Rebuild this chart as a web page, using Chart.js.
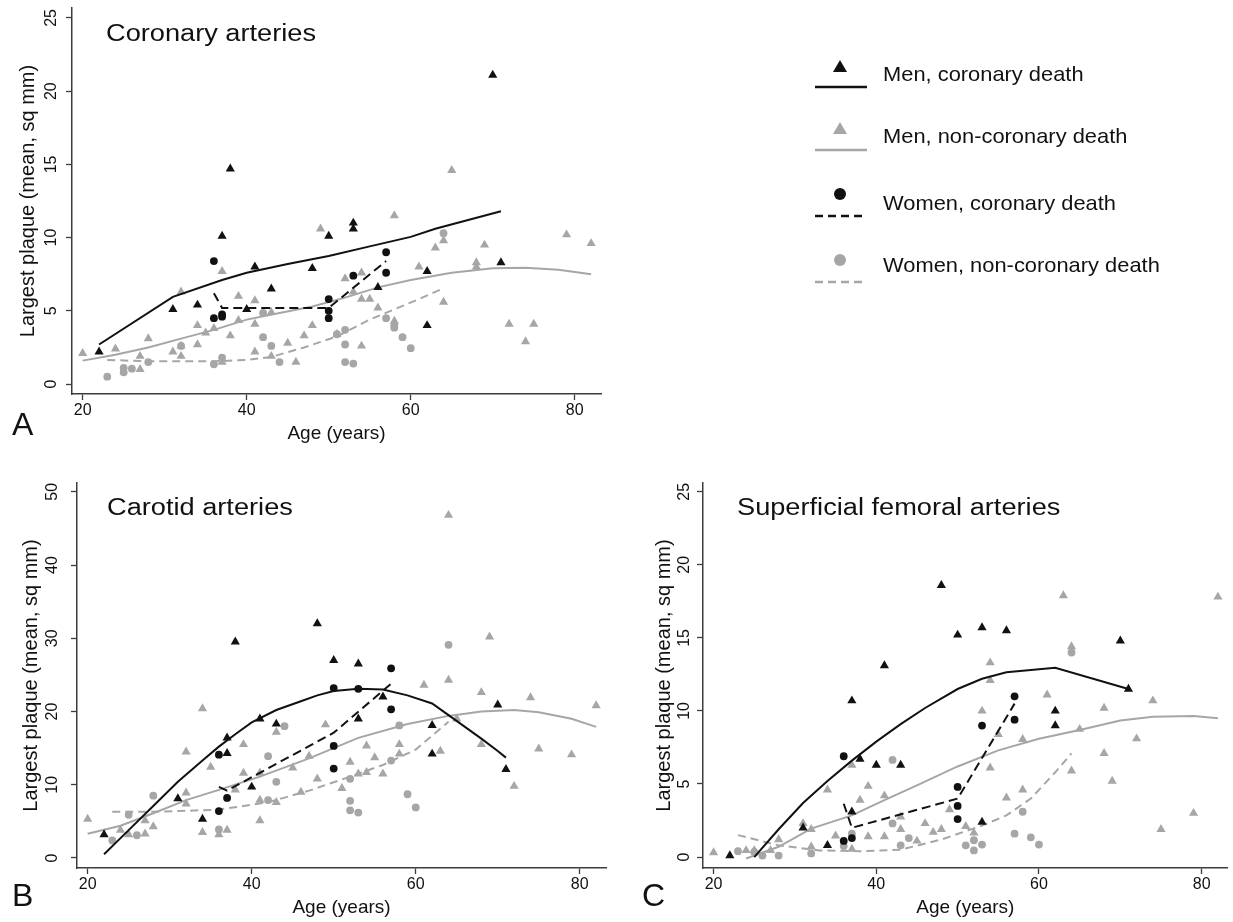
<!DOCTYPE html>
<html lang="en">
<head>
<meta charset="UTF-8">
<title>Largest plaque by age</title>
<script src="https://cdn.jsdelivr.net/npm/chart.js@4.4.0/dist/chart.umd.min.js"></script>
<style>
  body { margin: 0; background: #fff; }
  #page { position: relative; width: 1233px; height: 922px; overflow: hidden; font-family: "Liberation Sans", Arial, sans-serif; }
  canvas { position: absolute; }
  #overlay { position: absolute; left: 0; top: 0; pointer-events: none; }
</style>
</head>
<body>
<div id="page">
  <canvas id="coronary" width="615" height="455" style="left:0px;top:0px"></canvas>
  <canvas id="carotid" width="615" height="452" style="left:0px;top:470px"></canvas>
  <canvas id="femoral" width="603" height="452" style="left:630px;top:470px"></canvas>
  <svg id="overlay" width="1233" height="922"></svg>
</div>

<script>
// ---- data: [age, largest plaque] ----
const xTicks = [20, 40, 60, 80];
const coronaryTicks = [0, 5, 10, 15, 20, 25];
const carotidTicks = [0, 10, 20, 30, 40, 50];
const femoralTicks = [0, 5, 10, 15, 20, 25];

const legendLabels = ['Men, coronary death', 'Men, non-coronary death', 'Women, coronary death', 'Women, non-coronary death'];

// A - coronary arteries
const corMenCor = [[22,2.2],[31,5.1],[34,5.4],[37,10.1],[38,14.7],[40,5.1],[41,8.0],[43,6.5],[48,7.9],[50,10.1],[53,11.0],[53,10.6],[56,6.6],[62,7.7],[62,4.0],[70,21.1],[71,8.3]];
const corMenNon = [[20,2.1],[24,2.4],[27,1.9],[27,1.0],[28,3.1],[31,2.2],[32,6.3],[32,2.6],[32,1.9],[34,4.0],[34,2.7],[35,3.5],[36,3.8],[37,7.7],[37,1.5],[38,3.3],[39,6.0],[39,4.35],[41,5.7],[41,4.1],[41,2.2],[43,4.9],[43,1.9],[45,2.8],[46,1.5],[47,3.3],[48,4.0],[49,10.6],[51,3.4],[52,7.2],[53,6.3],[54,7.6],[54,5.8],[54,2.6],[55,5.8],[56,5.2],[58,11.5],[58,4.3],[61,8.0],[63,9.3],[64,9.8],[64,5.6],[65,14.6],[68,8.3],[68,8.0],[69,9.5],[72,4.1],[74,2.9],[75,4.1],[79,10.2],[82,9.6]];
const corWomCor = [[36,8.4],[36,4.5],[37,4.75],[37,4.6],[50,5.8],[50,5.0],[50,4.5],[53,7.4],[57,9.0],[57,7.6]];
const corWomNon = [[23,0.5],[25,1.1],[25,0.8],[26,1.05],[28,1.5],[32,2.6],[36,1.35],[37,1.8],[42,4.85],[42,3.2],[43,2.6],[44,1.5],[51,3.4],[52,3.7],[52,2.7],[52,1.5],[53,1.4],[57,4.5],[58,4.0],[58,3.85],[59,3.2],[60,2.45],[64,10.3]];
const corMenCorFit = [[22,2.7],[31,5.95],[37,7.1],[40,7.6],[45,8.2],[50,8.75],[55,9.4],[60,10.05],[63,10.6],[67,11.2],[71,11.8]];
const corMenNonFit = [[20,1.6],[24,2.0],[28,2.5],[32,3.1],[36,3.7],[40,4.4],[44,4.85],[48,5.3],[52,5.9],[56,6.6],[60,7.1],[65,7.6],[70,7.9],[74,7.95],[78,7.8],[82,7.5]];
const corWomCorFit = [[36,6.2],[37,5.2],[50,5.2],[57,8.4]];
const corWomNonFit = [[23,1.65],[28,1.55],[32,1.55],[36,1.55],[40,1.65],[43,1.85],[47,2.5],[51,3.25],[55,4.4],[58,5.1],[61,5.8],[64,6.55]];

// B - carotid arteries
const carMenCor = [[22,3.2],[31,8.1],[34,5.3],[37,16.4],[37,14.3],[38,29.5],[40,9.7],[41,19.0],[43,18.3],[48,32.0],[50,27.0],[53,26.5],[53,19.0],[56,22.0],[62,18.1],[62,14.2],[70,20.9],[71,12.1]];
const carMenNon = [[20,5.3],[24,3.8],[25,3.2],[27,5.1],[27,3.3],[28,4.3],[32,14.5],[32,8.9],[32,7.4],[34,20.4],[34,3.5],[35,12.4],[36,3.2],[37,3.8],[38,9.3],[39,15.5],[39,11.6],[41,11.6],[41,7.9],[41,5.1],[43,17.2],[43,7.6],[45,12.3],[46,9.0],[47,13.9],[48,10.8],[49,18.2],[51,9.5],[52,13.1],[53,11.5],[54,15.3],[54,11.7],[55,13.7],[56,11.5],[58,15.5],[58,14.2],[61,23.6],[63,14.6],[64,46.8],[64,24.3],[65,19.0],[68,22.6],[68,15.5],[69,30.2],[72,9.8],[74,21.9],[75,14.9],[79,14.1],[82,20.8]];
const carWomCor = [[36,14.1],[36,6.4],[37,8.2],[50,23.2],[50,15.3],[50,12.2],[53,23.1],[57,25.9],[57,20.3]];
const carWomNon = [[23,2.4],[25,5.9],[26,3.1],[28,8.5],[36,3.9],[42,13.9],[42,7.9],[43,10.4],[44,18.0],[52,10.8],[52,7.8],[52,6.5],[53,6.2],[57,13.3],[58,18.1],[59,8.7],[60,6.9],[64,29.1]];
const carMenCorFit = [[22,0.5],[25,3.8],[28,7.1],[31,10.4],[34,13.3],[36,15.2],[38,16.9],[40,18.5],[43,20.2],[46,21.4],[48,22.2],[50,22.8],[53,23.1],[56,23.0],[59,22.2],[62,21.1],[64,19.5],[66,17.9],[68,16.3],[70,14.6],[71,13.7]];
const carMenNonFit = [[20,3.3],[24,4.4],[28,6.1],[32,7.9],[36,9.3],[41,11.1],[47,13.6],[53,16.4],[59,18.3],[64,19.4],[68,20.0],[72,20.2],[75,19.9],[79,19.0],[82,17.9]];
const carWomCorFit = [[36,9.7],[37,9.2],[50,17.1],[57,23.8]];
const carWomNonFit = [[23,6.3],[27,6.3],[31,6.4],[36,6.6],[42,7.6],[47,9.2],[52,11.1],[56,12.7],[60,14.8],[64,18.6]];

// C - superficial femoral arteries
const femMenCor = [[22,0.1],[31,2.0],[34,0.8],[37,10.7],[37,3.1],[38,6.7],[40,6.3],[41,13.1],[43,6.3],[48,18.6],[50,15.2],[53,15.7],[53,2.4],[56,15.5],[62,10.0],[62,9.0],[70,14.8],[71,11.5]];
const femMenNon = [[20,0.3],[24,0.45],[25,0.45],[27,0.45],[28,1.2],[31,2.3],[32,1.9],[32,0.7],[34,4.6],[35,1.45],[37,6.3],[37,0.55],[38,3.9],[39,4.85],[39,1.4],[41,4.2],[41,1.4],[43,2.75],[43,1.9],[45,1.1],[46,2.3],[47,1.7],[48,1.9],[49,3.25],[51,2.1],[52,1.65],[53,10.0],[54,13.3],[54,12.1],[54,6.1],[55,8.4],[56,4.05],[58,8.05],[58,4.6],[61,11.1],[63,17.9],[64,14.4],[64,5.9],[65,8.75],[68,10.2],[68,7.1],[69,5.2],[72,8.1],[74,10.7],[75,1.9],[79,3.0],[82,17.8]];
const femWomCor = [[36,6.9],[36,1.1],[37,1.3],[50,4.8],[50,3.5],[50,2.6],[53,9.0],[57,11.0],[57,9.4]];
const femWomNon = [[23,0.4],[25,0.35],[26,0.1],[28,0.1],[32,0.25],[36,0.75],[37,1.6],[42,6.65],[42,2.3],[43,0.8],[44,1.3],[51,0.8],[52,1.15],[52,0.45],[53,0.85],[57,1.6],[58,3.1],[59,1.35],[60,0.85],[64,14.0]];
const femMenCorFit = [[25,0],[28,1.9],[31,3.7],[34,5.2],[37,6.6],[40,7.9],[43,9.1],[46,10.2],[50,11.5],[53,12.2],[56,12.65],[62,12.95],[71,11.5]];
const femMenNonFit = [[24,-0.1],[28,0.7],[32,1.95],[37,2.85],[41,3.9],[45,4.9],[50,6.2],[55,7.3],[60,8.1],[65,8.7],[70,9.35],[74,9.6],[79,9.65],[82,9.5]];
const femWomCorFit = [[36,3.65],[37,2.0],[50,4.0],[57,10.5]];
const femWomNonFit = [[23,1.5],[28,0.8],[33,0.45],[38,0.4],[43,0.5],[48,1.2],[53,2.15],[56,2.85],[59,4.0],[62,5.8],[64,7.1]];

// ---- styling ----
const BLACK = '#111111';
const GREY = '#a6a6a6';
const AXIS = '#3c3c3c';
const FONT = '"Liberation Sans", Arial, sans-serif';

function pts(arr) { return arr.map(p => ({ x: p[0], y: p[1] })); }

function markers(arr, style, color, r) {
    return { data: pts(arr), pointStyle: style, pointRadius: r, pointBackgroundColor: color,
             pointBorderWidth: 0, borderWidth: 0, showLine: false };
}
function fit(arr, color, dash) {
    return { data: pts(arr), showLine: true, borderColor: color, borderWidth: 2, borderDash: dash,
             pointRadius: 0, tension: 0, fill: false };
}

function makePanel(id, s) {
    // black series first so they are drawn on top
    const datasets = [
        fit(s.menCorFit, BLACK, []),
        fit(s.womCorFit, BLACK, [9, 5]),
        markers(s.menCor, 'triangle', BLACK, 5.3),
        markers(s.womCor, 'circle', BLACK, 3.9),
        fit(s.menNonFit, GREY, []),
        fit(s.womNonFit, GREY, [8, 5]),
        markers(s.menNon, 'triangle', GREY, 5.3),
        markers(s.womNon, 'circle', GREY, 3.9)
    ];
    new Chart(document.getElementById(id), {
        type: 'scatter',
        data: { datasets: datasets },
        options: {
            responsive: false,
            animation: false,
            layout: { padding: s.pad },
            plugins: { legend: { display: false }, tooltip: { enabled: false } },
            scales: {
                x: {
                    type: 'linear', min: 18.7, max: 83.2,
                    afterBuildTicks: sc => { sc.ticks = xTicks.map(v => ({ value: v })); },
                    afterFit: sc => { sc.height = s.xh; sc.paddingLeft = 0; sc.paddingRight = 0; },
                    grid: { drawOnChartArea: false, drawTicks: true, tickLength: 6, tickColor: AXIS, tickWidth: 1.3 },
                    border: { display: true, color: AXIS, width: 1.5 },
                    ticks: { font: { family: FONT, size: 16 }, color: BLACK, padding: 1, maxRotation: 0 },
                    title: { display: true, text: 'Age (years)', color: BLACK,
                             font: { family: FONT, size: 19 }, padding: { top: 0, bottom: s.xtb } }
                },
                y: {
                    type: 'linear', min: s.ymin, max: s.ymax,
                    afterBuildTicks: sc => { sc.ticks = s.yTicks.map(v => ({ value: v })); },
                    afterFit: sc => { sc.width = s.yw; sc.paddingTop = 0; sc.paddingBottom = 0; },
                    grid: { drawOnChartArea: false, drawTicks: true, tickLength: 6, tickColor: AXIS, tickWidth: 1.3 },
                    border: { display: true, color: AXIS, width: 1.5 },
                    ticks: { font: { family: FONT, size: 16 }, color: BLACK, padding: s.ytp,
                             minRotation: 90, maxRotation: 90, crossAlign: 'center' },
                    title: { display: true, text: 'Largest plaque (mean, sq mm)', color: BLACK,
                             font: { family: FONT, size: 20 }, padding: { top: s.ytt, bottom: 0 } }
                }
            }
        }
    });
}

makePanel('coronary', {
    menCor: corMenCor, menNon: corMenNon, womCor: corWomCor, womNon: corWomNon,
    menCorFit: corMenCorFit, menNonFit: corMenNonFit, womCorFit: corWomCorFit, womNonFit: corWomNonFit,
    yTicks: coronaryTicks, ymin: -0.68, ymax: 25.68,
    pad: { top: 8, right: 14, left: 0, bottom: 0 }, yw: 72, xh: 61, xtb: 9.5, ytp: 6, ytt: 16
});
makePanel('carotid', {
    menCor: carMenCor, menNon: carMenNon, womCor: carWomCor, womNon: carWomNon,
    menCorFit: carMenCorFit, menNonFit: carMenNonFit, womCorFit: carWomCorFit, womNonFit: carWomNonFit,
    yTicks: carotidTicks, ymin: -1.37, ymax: 51.2,
    pad: { top: 13, right: 9, left: 0, bottom: 0 }, yw: 77, xh: 54, xtb: 2.5, ytp: 10, ytt: 19
});
makePanel('femoral', {
    menCor: femMenCor, menNon: femMenNon, womCor: femWomCor, womNon: femWomNon,
    menCorFit: femMenCorFit, menNonFit: femMenNonFit, womCorFit: femWomCorFit, womNonFit: femWomNonFit,
    yTicks: femoralTicks, ymin: -0.75, ymax: 25.6,
    pad: { top: 13, right: 0, left: 0, bottom: 0 }, yw: 73, xh: 54, xtb: 2.5, ytp: 4, ytt: 22
});

// ---- text overlay: panel titles, panel letters, legend ----
const svgNS = 'http://www.w3.org/2000/svg';
const overlay = document.getElementById('overlay');
function el(tag, attrs, text) {
    const e = document.createElementNS(svgNS, tag);
    for (const k in attrs) e.setAttribute(k, attrs[k]);
    if (text) e.textContent = text;
    overlay.appendChild(e);
    return e;
}
// the source figure is slightly wider than tall, so text is stretched a little in x
function label(x, y, size, sx, str) {
    el('text', { x: 0, y: 0, 'font-size': size, fill: BLACK,
                 'font-family': 'Liberation Sans, Arial, sans-serif',
                 transform: `translate(${x},${y}) scale(${sx},1)` }, str);
}

label(106, 41, 24.5, 1.11, 'Coronary arteries');
label(107, 515, 24.5, 1.11, 'Carotid arteries');
label(737, 515, 24.5, 1.11, 'Superficial femoral arteries');
label(12, 435, 32, 1.0, 'A');
label(12, 906, 32, 1.0, 'B');
label(642, 906, 32, 1.0, 'C');

const legMarkY = [67, 129, 194, 260];
const legLineY = [87, 150, 216, 282];
const legTextY = [81, 142.5, 210, 272];
const legColor = [BLACK, GREY, BLACK, GREY];
const legShape = ['triangle', 'triangle', 'circle', 'circle'];
const legDash = ['', '', '8,5', '8,5'];
for (let i = 0; i < 4; i++) {
    const my = legMarkY[i];
    if (legShape[i] === 'triangle') {
        el('polygon', { points: `840,${my - 7} 833,${my + 5} 847,${my + 5}`, fill: legColor[i] });
    } else {
        el('circle', { cx: 840, cy: my, r: 6, fill: legColor[i] });
    }
    el('line', { x1: 815, x2: 867, y1: legLineY[i], y2: legLineY[i], stroke: legColor[i],
                 'stroke-width': 2.5, 'stroke-dasharray': legDash[i] });
    label(883, legTextY[i], 20, 1.094, legendLabels[i]);
}
</script>
</body>
</html>
